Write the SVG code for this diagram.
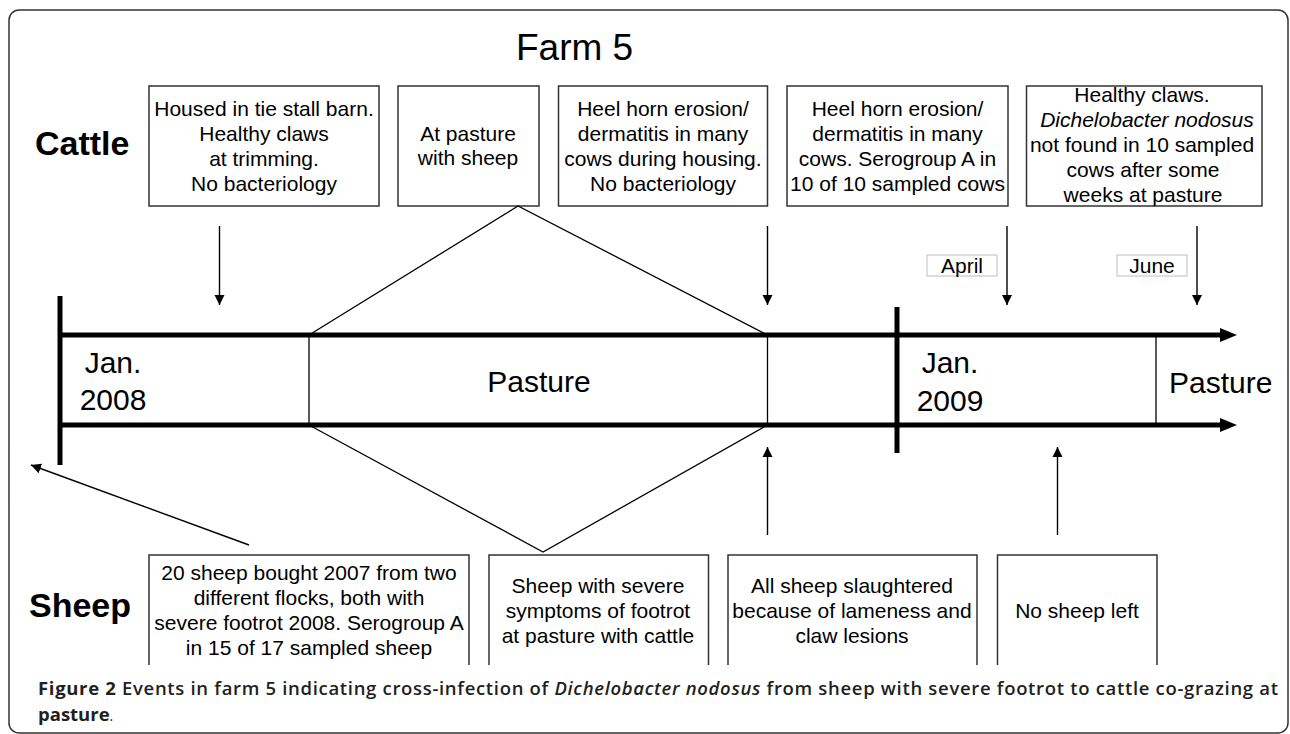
<svg xmlns="http://www.w3.org/2000/svg" width="1290" height="734" viewBox="0 0 1290 734">
<style>
.t{font-family:"Liberation Sans",Arial,sans-serif;font-size:21px;fill:#000;text-anchor:middle}
.lab{font-family:"Liberation Sans",Arial,sans-serif;font-size:34px;font-weight:700;fill:#000}
.big{font-family:"Liberation Sans",Arial,sans-serif;font-size:30px;fill:#000}
.box{fill:#fff;stroke:#333;stroke-width:1.5}
.obox{fill:none;stroke:#333;stroke-width:1.5}
.mbox{fill:#fff;stroke:#bdbdbd;stroke-width:1}
.thin{stroke:#000;stroke-width:1.3;fill:none}
.thick{stroke:#000;stroke-width:5;fill:none}
.arr{stroke:#000;stroke-width:1.4;fill:none;marker-end:url(#ah)}
.cap{font-family:"Open Sans",Lato,sans-serif;font-size:18.5px;fill:#231f20;font-weight:600}
</style>
<defs>
<marker id="ah" markerUnits="userSpaceOnUse" markerWidth="11" markerHeight="11" refX="10" refY="5" orient="auto" viewBox="0 0 11 10">
<path d="M0,0 L10,5 L0,10 z" fill="#000"/>
</marker>
</defs>
<rect x="9" y="10" width="1279" height="723" rx="10" fill="#fff" stroke="#333" stroke-width="1.5"/>
<text x="516" y="60" font-family="Liberation Sans, Arial, sans-serif" font-size="37" fill="#000">Farm 5</text>
<text class="lab" x="35" y="155">Cattle</text>
<text class="lab" x="29" y="617">Sheep</text>

<g id="c1"><rect class="box" x="149" y="86" width="230" height="120"/>
<text class="t" x="264" y="116">Housed in tie stall barn.</text><text class="t" x="264" y="141">Healthy claws</text><text class="t" x="264" y="166">at trimming.</text><text class="t" x="264" y="191">No bacteriology</text></g>
<g id="c2"><rect class="box" x="398" y="86" width="141" height="120"/>
<text class="t" x="468" y="141">At pasture</text><text class="t" x="468" y="165">with sheep</text></g>
<g id="c3"><rect class="box" x="558.5" y="86" width="209" height="120"/>
<text class="t" x="663" y="116">Heel horn erosion/</text><text class="t" x="663" y="141">dermatitis in many</text><text class="t" x="663" y="166">cows during housing.</text><text class="t" x="663" y="191">No bacteriology</text></g>
<g id="c4"><rect class="box" x="787" y="86" width="221" height="120"/>
<text class="t" x="897.5" y="116">Heel horn erosion/</text><text class="t" x="897.5" y="141">dermatitis in many</text><text class="t" x="897.5" y="166">cows. Serogroup A in</text><text class="t" x="897.5" y="191">10 of 10 sampled cows</text></g>
<g id="c5"><rect class="box" x="1026.5" y="86" width="235.5" height="120"/>
<text class="t" x="1142" y="102">Healthy claws.</text><text class="t" x="1147" y="127" font-style="italic">Dichelobacter nodosus</text><text class="t" x="1142" y="152">not found in 10 sampled</text><text class="t" x="1143" y="177">cows after some</text><text class="t" x="1143" y="202">weeks at pasture</text></g>

<g id="april"><rect class="mbox" x="927" y="255" width="70" height="21"/><text class="t" x="962" y="273" font-size="20">April</text></g>
<g id="june"><rect class="mbox" x="1117" y="255" width="70" height="21"/><text class="t" x="1152" y="273" font-size="20">June</text></g>

<g id="timeline">
<line class="thick" x1="60" y1="335" x2="1222" y2="335"/>
<line class="thick" x1="60" y1="425" x2="1222" y2="425"/>
<polygon points="1220,328 1237,335 1220,342" fill="#000"/>
<polygon points="1220,418 1237,425 1220,432" fill="#000"/>
<line class="thick" x1="60" y1="296" x2="60" y2="465"/>
<line class="thick" x1="897" y1="307" x2="897" y2="453"/>
<line class="thin" x1="309" y1="335" x2="309" y2="425"/>
<line class="thin" x1="767.5" y1="335" x2="767.5" y2="425"/>
<line class="thin" x1="1156" y1="335" x2="1156" y2="425"/>
<text class="big" x="113" y="373" text-anchor="middle">Jan.</text>
<text class="big" x="113" y="410" text-anchor="middle">2008</text>
<text class="big" x="539" y="392" text-anchor="middle" font-size="31">Pasture</text>
<text class="big" x="950" y="373" text-anchor="middle">Jan.</text>
<text class="big" x="950" y="411" text-anchor="middle">2009</text>
<text class="big" x="1169" y="393">Pasture</text>
</g>

<g id="s1"><path class="obox" d="M149,665 V555 H469 V665"/>
<text class="t" x="309" y="580">20 sheep bought 2007 from two</text><text class="t" x="309" y="605">different flocks, both with</text><text class="t" x="309" y="630">severe footrot 2008. Serogroup A</text><text class="t" x="309" y="655">in 15 of 17 sampled sheep</text></g>
<g id="s2"><path class="obox" d="M489,665 V555 H708.5 V665"/>
<text class="t" x="598" y="593">Sheep with severe</text><text class="t" x="598" y="618">symptoms of footrot</text><text class="t" x="598" y="643">at pasture with cattle</text></g>
<g id="s3"><path class="obox" d="M728,665 V555 H977 V665"/>
<text class="t" x="852" y="593">All sheep slaughtered</text><text class="t" x="852" y="618">because of lameness and</text><text class="t" x="852" y="643">claw lesions</text></g>
<g id="s4"><path class="obox" d="M997.5,665 V555 H1157 V665"/>
<text class="t" x="1077" y="618">No sheep left</text></g>

<g id="connectors">
<line class="arr" x1="219.5" y1="226" x2="219.5" y2="305"/>
<line class="arr" x1="767.5" y1="226" x2="767.5" y2="305"/>
<line class="arr" x1="1007" y1="226" x2="1007" y2="305"/>
<line class="arr" x1="1197" y1="226" x2="1197" y2="305"/>
<line class="arr" x1="767.5" y1="535" x2="767.5" y2="447"/>
<line class="arr" x1="1057.5" y1="535" x2="1057.5" y2="447"/>
<line class="arr" x1="249" y1="545" x2="31" y2="465"/>
<polyline class="thin" points="309,335 518,206 767.5,335"/>
<polyline class="thin" points="309,425 543,552 767.5,425"/>
</g>

<text class="cap" x="38" y="695" textLength="1240" lengthAdjust="spacing"><tspan font-weight="700">Figure 2</tspan> Events in farm 5 indicating cross-infection of <tspan font-style="italic">Dichelobacter nodosus</tspan> from sheep with severe footrot to cattle co-grazing at</text>
<text class="cap" x="38" y="721"><tspan font-weight="700">pasture</tspan><tspan font-weight="400" font-size="14">.</tspan></text>
</svg>
